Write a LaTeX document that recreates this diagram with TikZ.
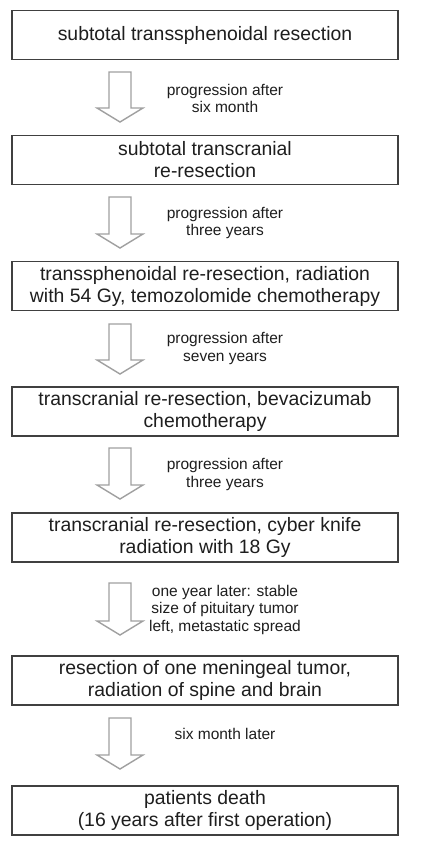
\documentclass[tikz,border=0pt]{standalone}
\usepackage{fontspec}
\setmainfont{Liberation Sans}
\definecolor{boxline}{HTML}{404040}
\definecolor{arrowline}{HTML}{A0A0A0}
\definecolor{txt}{HTML}{1E1E1E}
\begin{document}
\begin{tikzpicture}[x=1pt,y=-1pt,
  stagebox/.style={draw=boxline,line width=1.6pt,fill=white,minimum width=386pt,minimum height=49pt,
    inner sep=0pt,align=center,text=txt,font=\fontsize{19.4}{22}\selectfont},
  steplabel/.style={align=center,text=txt,inner sep=0pt,font=\fontsize{15.5}{17.5}\selectfont},
  blockarrow/.style={draw=arrowline,line width=1.4pt,line join=miter,fill=white}]
\useasboundingbox (0,0) rectangle (424,853);
\fill[white] (0,0) rectangle (424,853);
\newcommand\flowarrow[2]{%
  \draw[blockarrow] (#1) ++(-11,0) -- ++(22,0) -- ++(0,#2-14) -- ++(12,0) -- ++(-23,14) -- ++(-23,-14) -- ++(12,0) -- cycle;}
% boxes
\node[stagebox] (b1) at (205,35) {subtotal transsphenoidal resection};
\node[stagebox] (b2) at (205,160) {subtotal transcranial\\re-resection};
\node[stagebox] (b3) at (205,286) {transsphenoidal re-resection, radiation\\with 54 Gy, temozolomide chemotherapy};
\node[stagebox] (b4) at (205,411.5) {transcranial re-resection, bevacizumab\\chemotherapy};
\node[stagebox] (b5) at (205,537.5) {transcranial re-resection, cyber knife\\radiation with 18 Gy};
\node[stagebox] (b6) at (205,680.5) {resection of one meningeal tumor,\\radiation of spine and brain};
\node[stagebox] (b7) at (205,810.5) {patients death\\(16 years after first operation)};
% arrow tops
\coordinate (a1) at (120,72);
\coordinate (a2) at (120,197);
\coordinate (a3) at (120,324);
\coordinate (a4) at (120,448);
\coordinate (a5) at (120,583);
\coordinate (a6) at (120,718);
\flowarrow{a1}{50}
\flowarrow{a2}{51}
\flowarrow{a3}{50}
\flowarrow{a4}{51}
\flowarrow{a5}{52}
\flowarrow{a6}{51}
% labels
\node[steplabel] (l1) at (225,98.5) {progression after\\six month};
\node[steplabel] (l2) at (225,223) {progression after\\three years};
\node[steplabel] (l3) at (225,348.5) {progression after\\seven years};
\node[steplabel] (l4) at (225,474.5) {progression after\\three years};
\node[steplabel] (l5) at (225,609.5) {one year later: stable\\size of pituitary tumor\\left, metastatic spread};
\node[steplabel] (l6) at (225,734) {six month later};
\end{tikzpicture}
\end{document}
